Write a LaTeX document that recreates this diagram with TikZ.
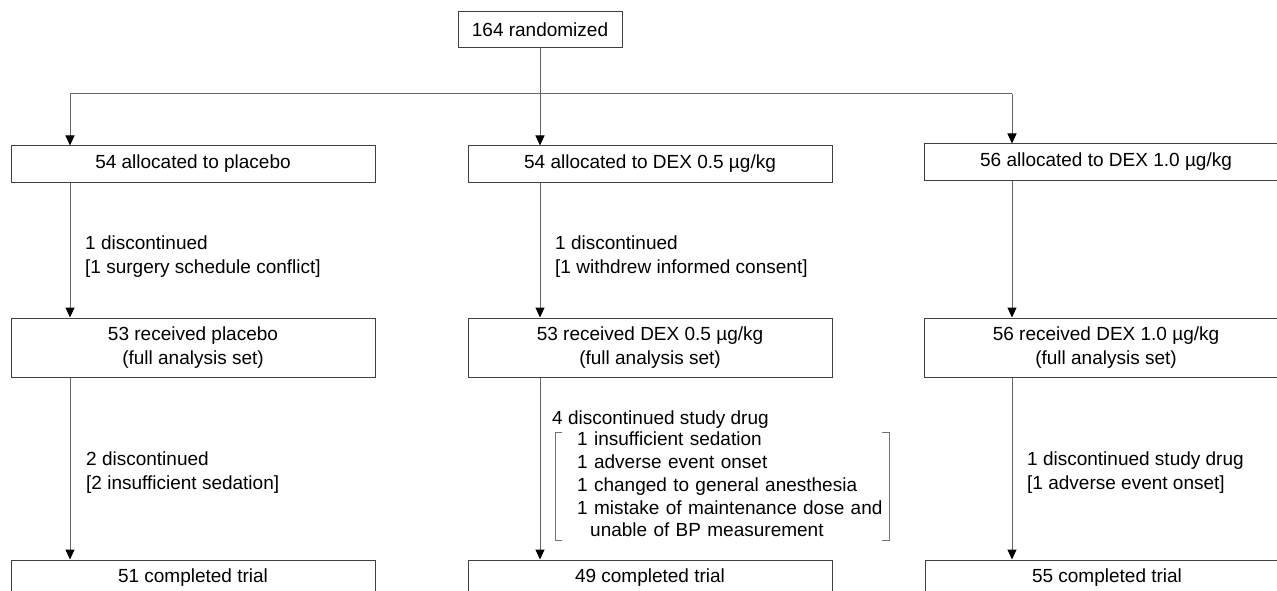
\documentclass[tikz,border=0pt]{standalone}
\usepackage{fontspec}
\setmainfont{Liberation Sans}
\usetikzlibrary{arrows.meta}
\newcommand{\flowfont}{\fontsize{19}{23.5}\selectfont}
\newcommand{\notefont}{\fontsize{19}{24}\selectfont}
\newcommand{\listfont}{\fontsize{19}{22.75}\selectfont}
\tikzset{
    box/.style={draw=black!75, line width=1pt, minimum width=364pt, minimum height=36pt,
        inner sep=0pt, align=center, font=\flowfont, text=black},
    tallbox/.style={box, minimum height=59pt},
    note/.style={anchor=north west, inner sep=0pt, align=left, font=\notefont, text=black},
    link/.style={draw=black!60, line width=1pt},
    arr/.style={link, -{Triangle[length=10pt, width=9pt, color=black]}},
    brace/.style={draw=black!55, line width=0.8pt}
}
\begin{document}
\begin{tikzpicture}[x=1pt, y=-1pt]
    \useasboundingbox (0,0) rectangle (1277,591);
    \clip (0,0) rectangle (1277,591);

    % columns of the arrows and the split line
    \coordinate (cl) at (70,0);
    \coordinate (cm) at (540,0);
    \coordinate (cr) at (1012,0);
    \coordinate (split) at (0,94);

    % TOP: randomization
    \node[box, minimum width=164pt] (rand) at (540,30) {164 randomized};

    % ROW 1: allocation
    \node[box] (alloc1) at (193,164) {54 allocated to placebo};
    \node[box] (alloc2) at (650,164) {54 allocated to DEX 0.5 µg/kg};
    \node[box] (alloc3) at (1106,162) {56 allocated to DEX 1.0 µg/kg};

    % ROW 2: received drug
    \node[tallbox] (recv1) at (193,347.5) {53 received placebo\\(full analysis set)};
    \node[tallbox] (recv2) at (650,347.5) {53 received DEX 0.5 µg/kg\\(full analysis set)};
    \node[tallbox] (recv3) at (1106,347.5) {56 received DEX 1.0 µg/kg\\(full analysis set)};

    % ROW 3: completed
    \node[box] (done1) at (193,578) {51 completed trial};
    \node[box] (done2) at (650,578) {49 completed trial};
    \node[box] (done3) at (1107,578) {55 completed trial};

    % split into three arms
    \draw[arr] (rand.south) -- (alloc2.north -| cm);
    \draw[link] (cl |- split) -- (cr |- split);
    \draw[arr] (cl |- split) -- (alloc1.north -| cl);
    \draw[arr] (cr |- split) -- (alloc3.north -| cr);

    % allocation -> received
    \draw[arr] (alloc1.south -| cl) -- (recv1.north -| cl);
    \draw[arr] (alloc2.south -| cm) -- (recv2.north -| cm);
    \draw[arr] (alloc3.south -| cr) -- (recv3.north -| cr);

    % received -> completed
    \draw[arr] (recv1.south -| cl) -- (done1.north -| cl);
    \draw[arr] (recv2.south -| cm) -- (done2.north -| cm);
    \draw[arr] (recv3.south -| cr) -- (done3.north -| cr);

    % dropouts after allocation
    \node[note] (drop1) at (85,236) {1 discontinued\\{[1 surgery schedule conflict]}};
    \node[note] (drop2) at (555,236) {1 discontinued\\{[1 withdrew informed consent]}};

    % dropouts after start of drug
    \node[note] (stop1) at (86,452) {2 discontinued\\{[2 insufficient sedation]}};
    \node[note] (stop2) at (552,411) {4 discontinued study drug};
    \node[note] (stop3) at (1027,452) {1 discontinued study drug\\{[1 adverse event onset]}};

    % reasons in the middle arm, with bracket
    \node[note, font=\listfont, text width=312pt] (why) at (577,432) {%
        1 insufficient sedation\\
        1 adverse event onset\\
        1 changed to general anesthesia\\
        1 mistake of maintenance dose and\\
        \hspace*{13pt}unable of BP measurement};
    \draw[brace] ([xshift=-15pt]why.north west) -- ++(-7,0) |- ([xshift=-15pt,yshift=-3pt]why.south west);
    \draw[brace] ([xshift=-7pt]why.north east) -- (why.north east) -- ([yshift=-3pt]why.south east) -- ++(-7,0);
\end{tikzpicture}
\end{document}
